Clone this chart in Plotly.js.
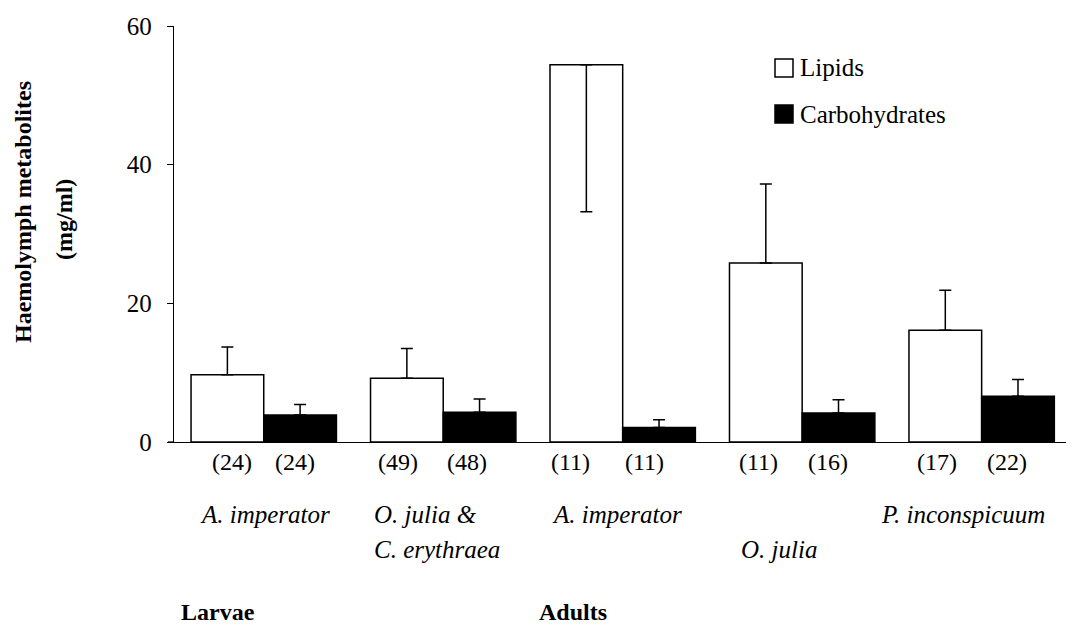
<!DOCTYPE html>
<html>
<head>
<meta charset="utf-8">
<script src="https://cdn.plot.ly/plotly-3.0.1.min.js"></script>
<style>html,body{margin:0;padding:0;background:#fff;}</style>
</head>
<body>
<div id="chart" style="width:1066px;height:632px;"></div>
<script>
// ---- data ----
const groupIndex = [0, 1, 2, 3, 4];
const speciesTop = ["A. imperator", "O. julia &", "A. imperator", "", "P. inconspicuum"];
const speciesBottom = ["", "C. erythraea", "", "O. julia", ""];
const stages = ["Larvae", "Adults"];
const seriesNames = ["Lipids", "Carbohydrates"];
const lipids = [9.7, 9.2, 54.4, 25.8, 16.1];
const lipidsErrPlus = [4.0, 4.3, 0, 11.4, 5.8];
const lipidsErrMinus = [0, 0, 21.2, 0, 0];
const carbs = [3.9, 4.3, 2.1, 4.2, 6.6];
const carbsErrPlus = [1.5, 1.9, 1.1, 1.9, 2.4];
const carbsErrMinus = [0, 0, 0, 0, 0];
const nLipids = ["(24)", "(49)", "(11)", "(11)", "(17)"];
const nCarbs = ["(24)", "(48)", "(11)", "(16)", "(22)"];
const yTicks = [0, 20, 40, 60];
const yTitleLines = ["Haemolymph metabolites", "(mg/ml)"];

// ---- layout helpers ----
const W = 1066, H = 632;
const margin = {l: 174, r: 0, t: 26, b: 190, pad: 0};
const plotW = W - margin.l - margin.r, plotH = H - margin.t - margin.b;
const PX = x => (x - margin.l) / plotW;
const PY = y => (H - margin.b - y) / plotH;
const FONT = "Liberation Serif";
const bargap = 0.19;
const barOff = (1 - bargap) / 4;

const errStyle = {color: "#000", thickness: 1.5, width: 6};

const traces = [
  {
    type: "bar", name: seriesNames[0], x: groupIndex, y: lipids,
    marker: {color: "#ffffff", line: {color: "#000", width: 1.5}},
    error_y: Object.assign({type: "data", symmetric: false, array: lipidsErrPlus, arrayminus: lipidsErrMinus}, errStyle),
    showlegend: false, hoverinfo: "skip"
  },
  {
    type: "bar", name: seriesNames[1], x: groupIndex, y: carbs,
    marker: {color: "#000000", line: {color: "#000", width: 1.5}},
    error_y: Object.assign({type: "data", symmetric: false, array: carbsErrPlus, arrayminus: carbsErrMinus}, errStyle),
    showlegend: false, hoverinfo: "skip"
  }
];

const annotations = [];
const nShiftL = [5, -9, -16, -7, -8];
const nShiftC = [-5, -13, -15, -11, -11];
groupIndex.forEach((g, i) => {
  annotations.push({xref: "x", yref: "paper", x: g - barOff, y: PY(462), xshift: nShiftL[i],
    text: nLipids[i], showarrow: false, xanchor: "center", yanchor: "middle",
    font: {family: FONT, size: 24, color: "#000"}});
  annotations.push({xref: "x", yref: "paper", x: g + barOff, y: PY(462), xshift: nShiftC[i],
    text: nCarbs[i], showarrow: false, xanchor: "center", yanchor: "middle",
    font: {family: FONT, size: 24, color: "#000"}});
});
// species labels
const spShift = [1, -71, -6, -23, -19];
const spAnchor = ["center", "left", "center", "center", "center"];
groupIndex.forEach((g, i) => {
  if (speciesTop[i]) annotations.push({xref: "x", yref: "paper", x: g, xshift: spShift[i], y: PY(514),
    text: "<i>" + speciesTop[i] + "</i>", showarrow: false, xanchor: spAnchor[i], yanchor: "middle",
    font: {family: FONT, size: 25, color: "#000"}});
  if (speciesBottom[i]) annotations.push({xref: "x", yref: "paper", x: g, xshift: spShift[i], y: PY(549),
    text: "<i>" + speciesBottom[i] + "</i>", showarrow: false, xanchor: spAnchor[i], yanchor: "middle",
    font: {family: FONT, size: 25, color: "#000"}});
});
// stage labels
const stageX = [218, 573];
stages.forEach((s, i) => annotations.push({xref: "paper", yref: "paper", x: PX(stageX[i]), y: PY(612),
  text: "<b>" + s + "</b>", showarrow: false, xanchor: "center", yanchor: "middle",
  font: {family: FONT, size: 24, color: "#000"}}));
// y title (two lines)
const yTitleX = [23, 64], yTitleY = [212, 220];
yTitleLines.forEach((t, i) => annotations.push({xref: "paper", yref: "paper", x: PX(yTitleX[i]), y: PY(yTitleY[i]),
  text: "<b>" + t + "</b>", textangle: -90, showarrow: false, xanchor: "center", yanchor: "middle",
  font: {family: FONT, size: 24, color: "#000"}}));
// legend (custom)
const legY = [68, 114];
const legFill = ["#ffffff", "#000000"];
const shapes = [];
seriesNames.forEach((s, i) => {
  shapes.push({type: "rect", xref: "paper", yref: "paper",
    x0: PX(775), x1: PX(793), y0: PY(legY[i] - 9), y1: PY(legY[i] + 9),
    line: {color: "#000", width: 1.5}, fillcolor: legFill[i]});
  annotations.push({xref: "paper", yref: "paper", x: PX(798), y: PY(legY[i]),
    text: s, showarrow: false, xanchor: "left", yanchor: "middle",
    font: {family: FONT, size: 25, color: "#000"}});
});
// small extension of x axis line to the left of y axis
shapes.push({type: "line", xref: "paper", yref: "paper", x0: PX(168), x1: 0, y0: 0, y1: 0,
  line: {color: "#000", width: 1.2}});

const layout = {
  width: W, height: H, margin: margin,
  paper_bgcolor: "#fff", plot_bgcolor: "#fff",
  font: {family: FONT, color: "#000"},
  barmode: "group", bargap: bargap, bargroupgap: 0,
  showlegend: false,
  xaxis: {type: "linear", range: [-0.5, 4.47], showline: true, linecolor: "#000", linewidth: 1.2,
    showticklabels: false, ticks: "", showgrid: false, zeroline: false, fixedrange: true},
  yaxis: {range: [0, 60], tickvals: yTicks, ticktext: yTicks.map(String), showline: true, linecolor: "#000", linewidth: 1.2,
    ticks: "outside", ticklen: 6, tickwidth: 1, tickcolor: "#000", showgrid: false, zeroline: false,
    tickfont: {family: FONT, size: 25, color: "#000"}, ticklabelstandoff: 10, fixedrange: true},
  annotations: annotations, shapes: shapes
};

Plotly.newPlot("chart", traces, layout, {displayModeBar: false, staticPlot: true});
</script>
</body>
</html>
